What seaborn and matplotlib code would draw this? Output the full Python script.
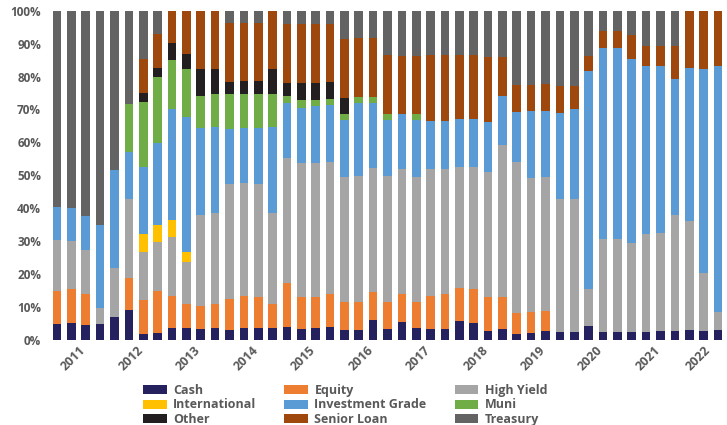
import matplotlib
matplotlib.use("Agg")
import matplotlib.pyplot as plt
from matplotlib.patches import Patch
import matplotlib.transforms as mtransforms
import numpy as np
import pandas as pd
import seaborn as sns

# ---------------- data ----------------
quarters = [f"{y}Q{q}" for y in range(2011, 2023) for q in range(1, 5)][:47]

cash = [4.9, 5.3, 4.6, 4.9, 7.1, 9.1, 1.8, 2.2, 3.7, 3.7,
        3.3, 3.7, 3.0, 3.7, 3.7, 3.7, 4.0, 3.3, 3.7, 3.8,
        3.0, 3.0, 6.1, 3.3, 5.6, 3.7, 3.3, 3.3, 5.9, 5.3,
        2.8, 3.3, 1.8, 2.2, 2.8, 2.5, 2.5, 4.3, 2.5, 2.5,
        2.5, 2.5, 2.8, 2.8, 3.0, 2.8, 3.0]
equity = [10.1, 10.1, 9.3, 0, 0, 9.8, 10.3, 12.7, 9.8, 7.1,
          6.9, 7.1, 9.4, 9.7, 9.3, 7.1, 13.2, 9.9, 9.5, 10.2,
          8.4, 8.6, 8.4, 8.3, 8.3, 7.9, 10.2, 10.6, 9.8, 10.1,
          10.2, 9.7, 6.3, 6.2, 6.0, 0, 0, 0, 0, 0,
          0, 0, 0, 0, 0, 0, 0]
high_yield = [15.3, 14.7, 13.4, 4.9, 14.7, 23.8, 14.7, 14.9, 17.9, 13.0,
              27.8, 27.7, 34.9, 34.4, 34.5, 27.7, 38.0, 40.7, 40.4, 40.1,
              38.2, 38.2, 37.8, 38.2, 38.0, 38.0, 38.3, 37.9, 36.8, 37.1,
              37.9, 46.2, 46.0, 40.7, 40.6, 40.3, 40.3, 11.2, 28.2, 28.2,
              27.1, 29.7, 29.8, 35.2, 33.1, 17.6, 5.6]
international = [0, 0, 0, 0, 0, 0, 5.4, 5.0, 5.0, 2.9,
                 0, 0, 0, 0, 0, 0, 0, 0, 0, 0,
                 0, 0, 0, 0, 0, 0, 0, 0, 0, 0,
                 0, 0, 0, 0, 0, 0, 0, 0, 0, 0,
                 0, 0, 0, 0, 0, 0, 0]
investment_grade = [10.0, 10.0, 10.4, 25.1, 29.8, 14.3, 20.2, 24.9, 33.7, 41.1,
                    26.5, 26.3, 16.7, 16.5, 16.8, 26.3, 16.9, 16.7, 17.4, 17.2,
                    17.2, 22.1, 19.8, 17.0, 16.7, 17.2, 14.7, 14.7, 14.5, 14.5,
                    15.3, 14.9, 15.2, 20.4, 20.1, 26.2, 27.3, 66.2, 57.9, 58.1,
                    55.7, 51.0, 50.6, 41.3, 46.6, 61.9, 74.6]
muni = [0, 0, 0, 0, 0, 14.6, 19.9, 20.1, 14.9, 14.4,
        9.6, 10.0, 10.6, 10.3, 10.3, 10.0, 2.0, 2.2, 1.8, 2.0,
        1.7, 2.0, 1.8, 1.8, 0, 1.8, 0, 0, 0, 0,
        0, 0, 0, 0, 0, 0, 0, 0, 0, 0,
        0, 0, 0, 0, 0, 0, 0]
other = [0, 0, 0, 0, 0, 0, 2.8, 2.9, 5.1, 4.7,
         8.1, 7.4, 3.8, 4.0, 4.0, 7.4, 4.0, 5.3, 5.3, 5.1,
         5.1, 0, 0, 0, 0, 0, 0, 0, 0, 0,
         0, 0, 0, 0, 0, 0, 0, 0, 0, 0,
         0, 0, 0, 0, 0, 0, 0]
senior_loan = [0, 0, 0, 0, 0, 0, 10.1, 10.1, 9.9, 13.1,
               17.8, 17.8, 17.8, 17.8, 17.6, 17.8, 17.9, 17.9, 17.9, 17.6,
               17.7, 17.7, 17.7, 17.8, 17.6, 17.6, 20.0, 20.0, 19.5, 19.4,
               19.8, 11.7, 8.1, 7.9, 8.1, 8.1, 7.0, 4.5, 5.3, 5.1,
               7.3, 6.1, 6.1, 10.0, 17.3, 17.7, 16.8]
treasury = [59.7, 59.9, 62.3, 65.1, 48.4, 28.4, 14.8, 7.2, 0, 0,
            0, 0, 3.8, 3.6, 3.8, 0, 4.0, 4.0, 4.0, 4.0,
            8.7, 8.4, 8.4, 13.6, 13.8, 13.8, 13.5, 13.5, 13.5, 13.6,
            14.0, 14.2, 22.6, 22.6, 22.4, 22.9, 22.9, 13.8, 6.1, 6.1,
            7.4, 10.7, 10.7, 10.7, 0, 0, 0]

series_names = ["Cash", "Equity", "High Yield", "International",
                "Investment Grade", "Muni", "Other", "Senior Loan", "Treasury"]
series_values = [cash, equity, high_yield, international,
                 investment_grade, muni, other, senior_loan, treasury]
colors = {
    "Cash": "#25215f",
    "Equity": "#ed7d31",
    "High Yield": "#a5a5a5",
    "International": "#ffc000",
    "Investment Grade": "#5b9bd5",
    "Muni": "#70ad47",
    "Other": "#231f20",
    "Senior Loan": "#9e480e",
    "Treasury": "#636363",
}

# ---------------- plot ----------------
sns.set_style("white")
plt.rcParams["font.family"] = ["Open Sans", "DejaVu Sans"]
text_color = "#595959"

df = pd.DataFrame(dict(zip(series_names, series_values)))
df.insert(0, "quarter", quarters)
cum = df[series_names].cumsum(axis=1)
cum.insert(0, "quarter", quarters)

W, H = 727, 425
fig = plt.figure(figsize=(W / 100, H / 100), dpi=100)
ax = fig.add_axes([48 / W, 85 / H, (726 - 48) / W, (340 - 10.7) / H])

for name in reversed(series_names):
    sns.barplot(data=cum, x="quarter", y=name, color=colors[name],
                saturation=1, width=0.6, errorbar=None, linewidth=0, ax=ax)

ax.set_ylim(0, 100)
ax.set_xlim(-0.63, 46.56)
ax.set_xlabel("")
ax.set_ylabel("")
for s in ax.spines.values():
    s.set_visible(False)

ax.set_yticks(np.arange(0, 101, 10))
ax.set_yticklabels([f"{v}%" for v in range(0, 101, 10)])

years = [q[:4] for q in quarters]
uniq_years = sorted(set(years))
tick_pos = [np.mean([i for i, y in enumerate(years) if y == yr]) for yr in uniq_years]
ax.set_xticks(tick_pos)
ax.set_xticklabels(uniq_years, rotation=45, ha="right", va="center",
                   rotation_mode="anchor")
ax.tick_params(axis="both", length=0, colors=text_color)
ax.tick_params(axis="x", pad=6, labelsize=9)
ax.tick_params(axis="y", pad=5, labelsize=8.5)
shift = mtransforms.ScaledTranslation(5 / 100, 0, fig.dpi_scale_trans)
for lab in ax.get_xticklabels():
    lab.set_transform(lab.get_transform() + shift)
for lab in ax.get_xticklabels() + ax.get_yticklabels():
    lab.set_fontweight("bold")
    lab.set_color(text_color)

order = ["Cash", "International", "Other",
         "Equity", "Investment Grade", "Senior Loan",
         "High Yield", "Muni", "Treasury"]
handles = [Patch(facecolor=colors[n], edgecolor="none") for n in order]
leg = fig.legend(handles, order, ncol=3, loc="upper left",
                 bbox_to_anchor=(143 / W, (425 - 384) / H), frameon=False,
                 borderpad=0, borderaxespad=0, handlelength=1.9, handleheight=0.75,
                 handletextpad=0.5, columnspacing=2.25, labelspacing=0.12,
                 prop={"size": 9, "weight": "bold"})
for t in leg.get_texts():
    t.set_color(text_color)

fig.savefig("out.png", dpi=100)
